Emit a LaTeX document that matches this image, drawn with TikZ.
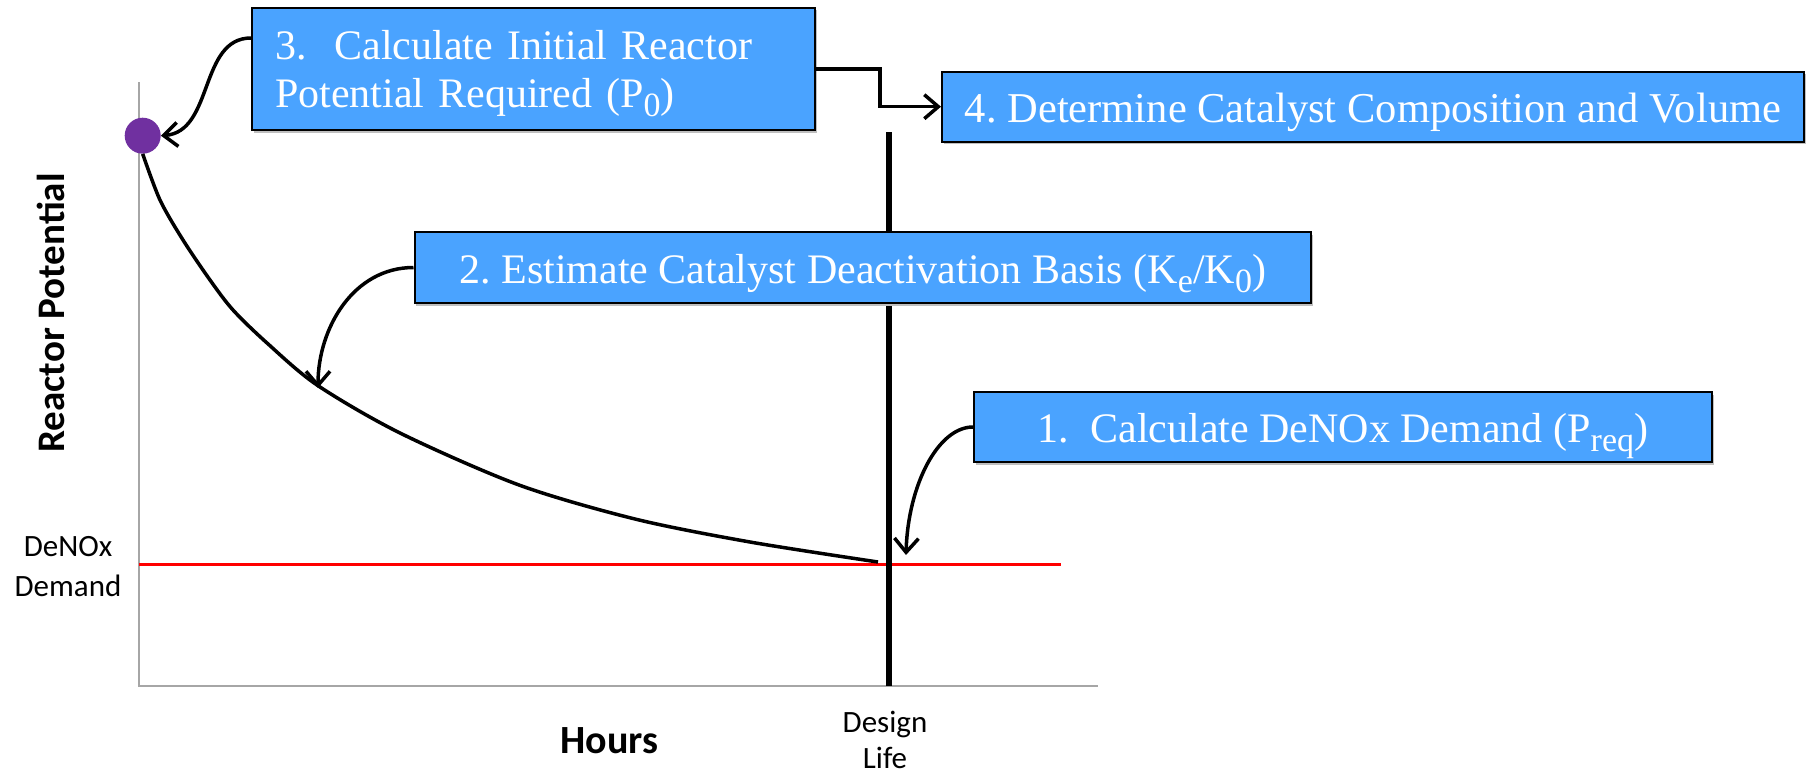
\documentclass[tikz,border=0pt]{standalone}
\usepackage{fontspec}
\setmainfont{Liberation Serif}
\newfontfamily\calib{Carlito}
\usetikzlibrary{arrows.meta,calc,shadows}
\definecolor{boxblue}{RGB}{74,163,255}
\definecolor{axisgray}{RGB}{166,166,166}
\definecolor{dotpurple}{RGB}{112,48,160}
\newcommand\lowsub[1]{\raisebox{-9pt}{\fontsize{34}{34}\selectfont #1}}
\frenchspacing
\begin{document}
\begin{tikzpicture}[x=1pt,y=-1pt,
  stepbox/.style={draw=black, line width=2pt, fill=boxblue, text=white,
    font=\fontsize{42}{48}\selectfont, inner sep=0pt,
    drop shadow={shadow xshift=1.5pt, shadow yshift=-2.5pt, fill=black!25, opacity=1}},
  onebox/.style={stepbox, text height=40pt, text depth=9pt},
  conn/.style={draw=black, line width=3.5pt, -{Straight Barb[length=14pt,width=24pt]}},
  axisline/.style={draw=axisgray, line width=2.5pt},
  demandline/.style={draw=red, line width=3pt},
  lifeline/.style={draw=black, line width=5.5pt},
  decay/.style={draw=black, line width=3.5pt},
  axlabel/.style={font=\calib\bfseries\fontsize{39}{39}\selectfont},
  ticklabel/.style={font=\calib\fontsize{31}{40}\selectfont, align=center}]
\useasboundingbox (0,0) rectangle (1809,776);

% axes
\coordinate (Ytop) at (139,82);
\coordinate (O) at (139,686);
\coordinate (Xend) at (1098,686);
\draw[axisline] (Ytop) -- (O) -- (Xend);

% DeNOx demand line
\coordinate (D0) at (139,564);
\coordinate (D1) at (1061,564);
\draw[demandline] (D0) -- (D1);

% design life line
\coordinate (L0) at (889,132);
\coordinate (L1) at (889,686);
\draw[lifeline] (L0) -- (L1);

% starting point
\node[circle, fill=dotpurple, minimum size=36pt, inner sep=0pt] (circ) at (142.7,135.7) {};

% decay curve
\draw[decay] plot[smooth, tension=0.5] coordinates {(circ.south) (160,200) (183,240) (210,280) (233,310) (267,343) (317,385) (400,433) (519,485) (635,519) (750,542) (878,562)};

\coordinate (p2) at (318,388);
\coordinate (p1) at (906,555);

% labels
\node[axlabel, rotate=90] (ylab) at (51,313) {Reactor Potential};
\node[axlabel, font=\calib\bfseries\fontsize{40}{40}\selectfont, anchor=base] (xlab) at (609.5,753) {Hours};
\node[ticklabel] (dlab) at (68,567) {DeNOx\\Demand};
\node[ticklabel, font=\calib\fontsize{31}{36}\selectfont] (life) at (885,740) {Design\\Life};

% boxes
\node[stepbox, minimum width=563pt, minimum height=122pt, text width=517pt, align=left] (b3) at (533.5,69)
  {\rule{0pt}{39pt}3.\ \ Calculate Initial Reactor\\Potential Required (P\lowsub{0})};
\node[onebox, font=\fontsize{42.5}{48}\selectfont, minimum width=862pt, minimum height=70pt] (b4) at (1373,106.7)
  {4. Determine Catalyst Composition and Volume};
\node[onebox, minimum width=896.5pt, minimum height=71pt] (b2) at (862.75,267.5)
  {2. Estimate Catalyst Deactivation Basis (K\lowsub{e}/K\lowsub{0})};
\node[onebox, minimum width=738pt, minimum height=70pt] (b1) at (1343,427)
  {1.\ \ Calculate DeNOx Demand (P\lowsub{req})};

% connectors
\draw[conn] ($(b3.north west)!0.25!(b3.south west)$) .. controls +(-52,0) and +(53,-4) .. (circ.east);
\draw[conn] (b2.west) .. controls +(-60,0) and +(0,-60) .. (p2);
\draw[conn] (b1.west) .. controls +(-35,0) and +(2,-70) .. (p1);
\draw[conn] (b3.east) -- ++(64,0) |- (b4.west);
\end{tikzpicture}
\end{document}
